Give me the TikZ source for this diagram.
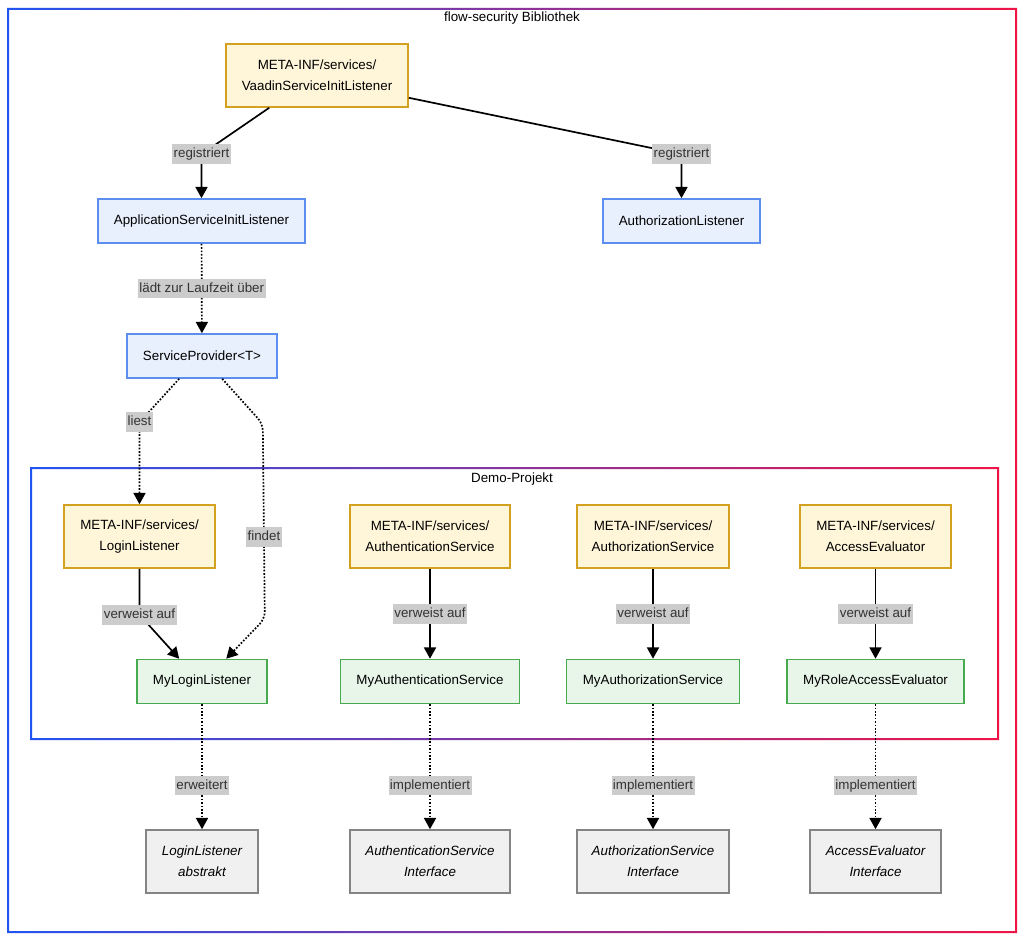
\documentclass[tikz,border=0pt]{standalone}
\usepackage{fontspec}
\setmainfont{Liberation Sans}
\usepackage{tikz}
\usetikzlibrary{arrows.meta,positioning,calc}
\definecolor{frameblue}{RGB}{34,84,240}
\definecolor{framered}{RGB}{240,20,70}
\definecolor{cfgfill}{RGB}{255,246,218}
\definecolor{cfgdraw}{RGB}{212,160,32}
\definecolor{corefill}{RGB}{232,240,254}
\definecolor{coredraw}{RGB}{92,142,240}
\definecolor{implfill}{RGB}{232,245,233}
\definecolor{impldraw}{RGB}{72,170,78}
\definecolor{apifill}{RGB}{240,240,240}
\definecolor{apidraw}{RGB}{132,132,132}
\definecolor{lblfill}{RGB}{204,204,204}
\definecolor{lbltext}{RGB}{51,51,51}

\begin{document}
\begin{tikzpicture}[x=0.025cm,y=-0.025cm,
  font=\fontsize{9.5}{15}\selectfont,
  base/.style={draw,line width=1.1pt,align=center,inner sep=2pt},
  cfg/.style={base,fill=cfgfill,draw=cfgdraw,minimum height=1.575cm},
  core/.style={base,fill=corefill,draw=coredraw,minimum height=1.1cm},
  impl/.style={base,fill=implfill,draw=impldraw,minimum height=1.1cm},
  api/.style={base,fill=apifill,draw=apidraw,minimum height=1.575cm,font=\fontsize{9.5}{15}\selectfont\itshape},
  arr/.style={-{Triangle[length=8pt,width=8.5pt]},line width=1.2pt},
  dots/.style={arr,dash pattern=on 1.2pt off 1.2pt},
  lbl/.style={sharp corners,fill=lblfill,text=lbltext,inner xsep=1pt,inner ysep=2.5pt,text height=7pt,text depth=2pt},
  frametitle/.style={inner sep=1pt}
]
\useasboundingbox (0,0) rectangle (1024,939);
% gradient frames
\path[left color=frameblue,right color=framered,even odd rule]
  (7,8) rectangle (1017,933) (9,10) rectangle (1015,931);
\node[frametitle] (outertitle) at (512,18) {flow-security Bibliothek};
\path[left color=frameblue,right color=framered,even odd rule]
  (30,467) rectangle (999,740) (32,469) rectangle (997,738);
\node[frametitle] (innertitle) at (512,479) {Demo-Projekt};

\node[cfg,minimum width=4.55cm]  (vaadin)   at (317,75.5) {META-INF/services/\\VaadinServiceInitListener};
\node[core,minimum width=5.18cm] (appinit)  at (201.5,221) {ApplicationServiceInitListener};
\node[core,minimum width=3.93cm] (authzlst) at (681.5,221) {AuthorizationListener};
\node[core,minimum width=3.75cm] (provider) at (202,356)   {ServiceProvider<T>};

\node[cfg,minimum width=3.78cm] (cfglogin) at (139.5,536.5) {META-INF/services/\\LoginListener};
\node[cfg,minimum width=4.0cm]  (cfgauthn) at (430,536.5)   {META-INF/services/\\AuthenticationService};
\node[cfg,minimum width=3.8cm]  (cfgauthz) at (653,536.5)   {META-INF/services/\\AuthorizationService};
\node[cfg,minimum width=3.78cm] (cfgaccess) at (875.5,536.5) {META-INF/services/\\AccessEvaluator};

\node[impl,minimum width=3.25cm] (mylogin)  at (202,681.5)   {MyLoginListener};
\node[impl,minimum width=4.48cm] (myauthn)  at (430,681.5)   {MyAuthenticationService};
\node[impl,minimum width=4.33cm] (myauthz)  at (653,681.5)   {MyAuthorizationService};
\node[impl,minimum width=4.43cm] (myaccess) at (875.5,681.5) {MyRoleAccessEvaluator};

\node[api,minimum width=2.8cm]  (loginapi)  at (202,861.5)   {LoginListener\\abstrakt};
\node[api,minimum width=4.0cm]  (authnapi)  at (430,861.5)   {AuthenticationService\\Interface};
\node[api,minimum width=3.8cm]  (authzapi)  at (653,861.5)   {AuthorizationService\\Interface};
\node[api,minimum width=3.28cm] (accessapi) at (875.5,861.5) {AccessEvaluator\\Interface};

% library side
\draw[arr] ($(vaadin.south west)+(44,0)$) -- ($(appinit.north)+(0,-44)$) node[lbl]{registriert} -- (appinit.north);
\draw[arr] ($(vaadin.south east)+(0,-10)$) -- ($(authzlst.north)+(0,-44)$) node[lbl]{registriert} -- (authzlst.north);
\draw[dots] (appinit) -- (provider) node[lbl,midway]{lädt zur Laufzeit über};
\draw[dots] ($(provider.south west)+(53,0)$) -- ($(cfglogin.north)+(0,-82)$) node[lbl]{liest} -- (cfglogin.north);
\draw[dots,rounded corners=5pt] ($(provider.south west)+(96,0)$) -- ($(provider.south east)+(-15,45)$)
  -- ($(mylogin.north east)+(-3,-40)$) node[lbl,pos=0.58]{findet}
  -- ($(mylogin.north west)+(90,0)$);

% demo project
\draw[arr] (cfglogin.south) -- ($(cfglogin.south)+(0,46)$) node[lbl]{verweist auf} -- ($(mylogin.north west)+(43,0)$);
\draw[arr] (cfgauthn) -- (myauthn) node[lbl,midway]{verweist auf};
\draw[arr] (cfgauthz) -- (myauthz) node[lbl,midway]{verweist auf};
\draw[arr] (cfgaccess) -- (myaccess) node[lbl,midway]{verweist auf};

\draw[dots] (mylogin) -- (loginapi) node[lbl,pos=0.65]{erweitert};
\draw[dots] (myauthn) -- (authnapi) node[lbl,pos=0.65]{implementiert};
\draw[dots] (myauthz) -- (authzapi) node[lbl,pos=0.65]{implementiert};
\draw[dots] (myaccess) -- (accessapi) node[lbl,pos=0.65]{implementiert};
\end{tikzpicture}
\end{document}
